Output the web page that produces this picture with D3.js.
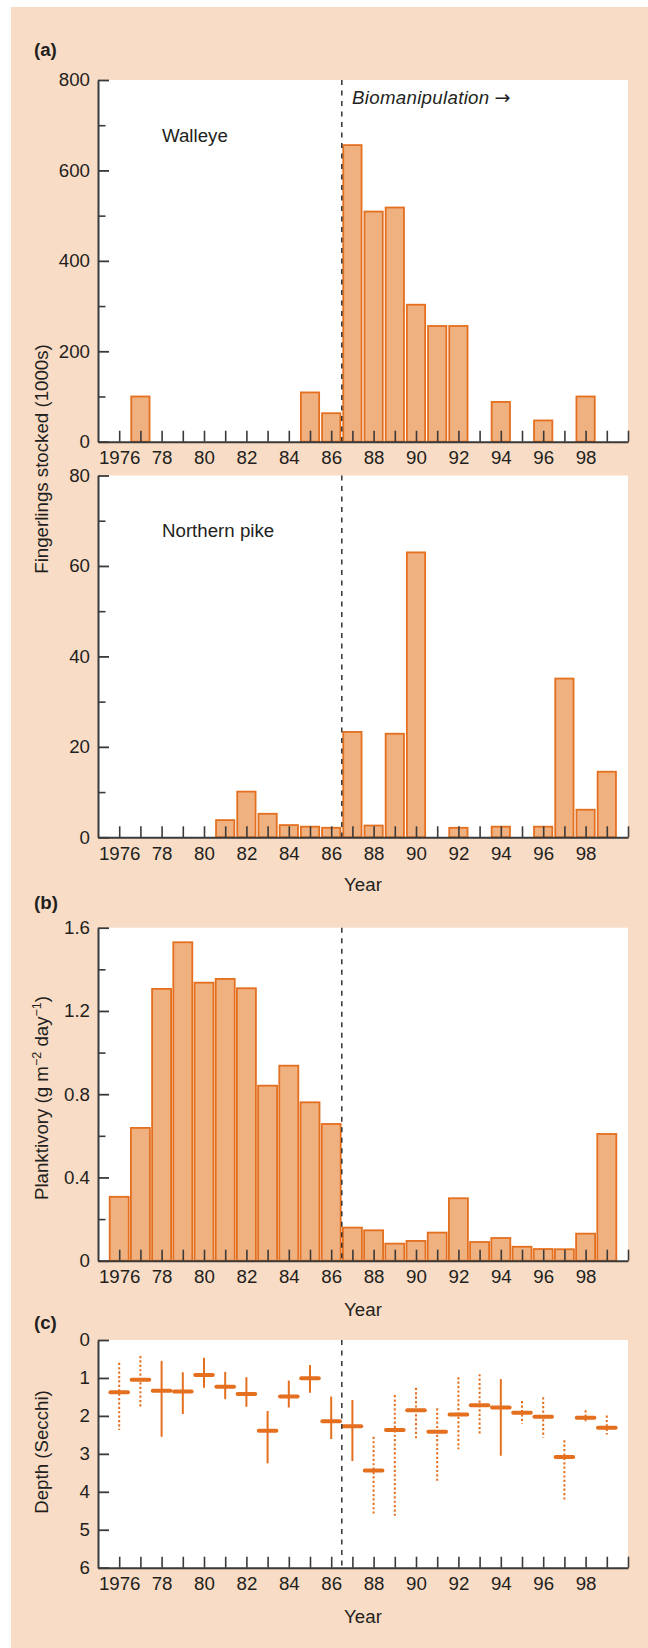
<!DOCTYPE html>
<html>
<head>
<meta charset="utf-8">
<script src="https://cdn.jsdelivr.net/npm/d3@7"></script>
<style>
  html, body { margin: 0; padding: 0; background: #ffffff; }
  svg { display: block; }
  text { font-family: "Liberation Sans", Arial, Helvetica, sans-serif; fill: #231f20; }
</style>
</head>
<body>
<svg id="chart" width="648" height="1648"></svg>
<script>
// ---------------- DATA ----------------
const years = [1976,1977,1978,1979,1980,1981,1982,1983,1984,1985,1986,1987,
               1988,1989,1990,1991,1992,1993,1994,1995,1996,1997,1998,1999];
const yearTickLabels = ["1976","78","80","82","84","86","88","90","92","94","96","98"];

// Panel (a): fingerlings stocked (1000s)
const walleye = [0,100,0,0,0,0,0,0,0,109,63,656,509,518,303,256,256,0,88,0,47,0,100,0];
const northernPike = [0,0,0,0,0,3.8,10.1,5.2,2.7,2.35,2.1,23.3,2.6,22.9,63.0,0,2.1,0,2.35,0,2.35,35.1,6.1,14.5];
const walleyeTicks = [0,200,400,600,800];
const pikeTicks = [0,20,40,60,80];

// Panel (b): planktivory (g m-2 day-1)
const planktivory = [0.307,0.638,1.306,1.530,1.336,1.354,1.309,0.841,0.937,0.761,0.657,0.159,
                     0.146,0.082,0.095,0.135,0.300,0.090,0.109,0.067,0.056,0.055,0.130,0.609];
const planktivoryTicks = [0,0.4,0.8,1.2,1.6];

// Panel (c): Secchi depth
const secchiMean = [1.38,1.05,1.34,1.36,0.92,1.23,1.42,2.39,1.49,1.01,2.14,2.27,
                    3.44,2.37,1.85,2.42,1.96,1.72,1.78,1.92,2.02,3.08,2.05,2.31];
const secchiLow  = [0.60,0.42,0.55,0.85,0.47,0.84,0.98,1.87,1.07,0.66,1.49,1.58,
                    2.55,1.45,1.26,1.80,0.98,0.90,1.03,1.61,1.51,2.64,1.85,1.99];
const secchiHigh = [2.37,1.76,2.55,1.95,1.26,1.56,1.76,3.25,1.78,1.39,2.61,3.19,
                    4.57,4.63,2.59,3.71,2.88,2.52,3.05,2.20,2.57,4.26,2.20,2.49];
const secchiDotted = [true,true,false,false,false,false,false,false,false,false,false,false,
                      true,true,true,true,true,true,false,true,true,true,true,true];
const secchiTicks = [0,1,2,3,4,5,6];

const biomanipulationYear = 1986.5;

// ---------------- STYLE ----------------
const PEACH = "#f9dcc5";
const BAR_FILL = "#f0b180";
const BAR_STROKE = "#e46f1f";
const INK = "#231f20";
const AXIS = "#3a3a3a";
const FS = 18.7;

const svg = d3.select("#chart");
svg.append("rect").attr("x", 11).attr("y", 7).attr("width", 637).attr("height", 1641).attr("fill", PEACH);

const x = d3.scaleLinear().domain([1975, 2000]).range([98, 628]);
const xTickVals = d3.range(1976, 2001);
const xFmt = d => {
  if (d >= 1976 && d <= 1998 && (d - 1976) % 2 === 0) return yearTickLabels[(d - 1976) / 2];
  return "";
};

function midTicks(ticks) {
  const out = [];
  for (let i = 0; i < ticks.length - 1; i++) out.push((ticks[i] + ticks[i+1]) / 2);
  return out;
}

function panel(opts) {
  const { top, bottom, domain, ticks, inverted } = opts;
  const y = d3.scaleLinear().domain(domain).range(inverted ? [top, bottom] : [bottom, top]);
  const g = svg.append("g");
  g.append("rect").attr("x", x.range()[0]).attr("y", top)
    .attr("width", x.range()[1] - x.range()[0]).attr("height", bottom - top).attr("fill", "#ffffff");
  const marks = g.append("g");
  g.append("line").attr("x1", x(biomanipulationYear)).attr("x2", x(biomanipulationYear))
    .attr("y1", top).attr("y2", bottom)
    .attr("stroke", "#333").attr("stroke-width", 1.5).attr("stroke-dasharray", "5,5.5");
  if (opts.minor) {
    g.append("g").attr("transform", `translate(${x.range()[0]},0)`)
      .call(d3.axisLeft(y).tickValues(midTicks(ticks)).tickSize(-7.5).tickFormat(""))
      .call(a => { a.select(".domain").remove(); a.selectAll("line").attr("stroke", AXIS).attr("stroke-width", 1.6); });
  }
  g.append("g").attr("transform", `translate(${x.range()[0]},0)`)
    .call(d3.axisLeft(y).tickValues(ticks).tickSizeInner(-11).tickSizeOuter(0).tickPadding(8)
      .tickFormat(d => String(d)))
    .call(a => {
      a.select(".domain").attr("stroke", AXIS).attr("stroke-width", 2);
      a.selectAll("line").attr("stroke", AXIS).attr("stroke-width", 1.8);
      a.selectAll("text").attr("font-size", FS).attr("fill", INK)
        .style("font-family", '"Liberation Sans", Arial, sans-serif');
    });
  g.append("g").attr("class", "xaxis").attr("transform", `translate(0,${bottom})`)
    .call(d3.axisBottom(x).tickValues(xTickVals).tickSizeInner(-11).tickSizeOuter(0).tickPadding(9.3)
      .tickFormat(xFmt))
    .call(a => {
      a.select(".domain").attr("stroke", AXIS).attr("stroke-width", 2);
      a.selectAll("line").attr("stroke", AXIS).attr("stroke-width", 1.6);
      a.selectAll("text").attr("font-size", FS).attr("fill", INK)
        .style("font-family", '"Liberation Sans", Arial, sans-serif');
    });
  return { y, marks, g };
}

function drawBars(p, values, w) {
  const data = years.map((yr, i) => ({ yr, v: values[i] })).filter(d => d.v > 0);
  p.marks.selectAll("rect.bar").data(data).enter().append("rect").attr("class", "bar")
    .attr("x", d => x(d.yr) - w / 2)
    .attr("y", d => p.y(d.v))
    .attr("width", w)
    .attr("height", d => p.y(0) - p.y(d.v))
    .attr("fill", BAR_FILL).attr("stroke", BAR_STROKE).attr("stroke-width", 1.8);
}

const pA = panel({ top: 80, bottom: 441.7, domain: [0, 800], ticks: walleyeTicks, minor: true });
drawBars(pA, walleye, 18.3);
const pP = panel({ top: 475.5, bottom: 837.3, domain: [0, 80], ticks: pikeTicks, minor: true });
drawBars(pP, northernPike, 18.3);
const pB = panel({ top: 927.7, bottom: 1260.7, domain: [0, 1.6], ticks: planktivoryTicks, minor: true });
drawBars(pB, planktivory, 19);
const pC = panel({ top: 1340, bottom: 1567.7, domain: [0, 6], ticks: secchiTicks, minor: false, inverted: true });
const cData = years.map((yr, i) => ({ yr, m: secchiMean[i], lo: secchiLow[i], hi: secchiHigh[i], dot: secchiDotted[i] }));
pC.marks.selectAll("line.whisk").data(cData).enter().append("line").attr("class", "whisk")
  .attr("x1", d => x(d.yr)).attr("x2", d => x(d.yr))
  .attr("y1", d => pC.y(d.lo)).attr("y2", d => pC.y(d.hi))
  .attr("stroke", BAR_STROKE).attr("stroke-width", 2)
  .attr("stroke-dasharray", d => d.dot ? "2.2,2.2" : null);
pC.marks.selectAll("line.mean").data(cData).enter().append("line").attr("class", "mean")
  .attr("x1", d => x(d.yr) - 8.8).attr("x2", d => x(d.yr) + 8.8)
  .attr("y1", d => pC.y(d.m)).attr("y2", d => pC.y(d.m))
  .attr("stroke", BAR_STROKE).attr("stroke-width", 4).attr("stroke-linecap", "round");

// ---------------- TEXT ----------------
function txt(xp, yp, s, extra) {
  const t = svg.append("text").attr("x", xp).attr("y", yp).attr("font-size", FS).text(s);
  if (extra) extra(t);
  return t;
}
txt(34, 56, "(a)", t => t.attr("font-weight", "bold"));
txt(34, 909, "(b)", t => t.attr("font-weight", "bold"));
txt(34, 1329, "(c)", t => t.attr("font-weight", "bold"));
const bio = svg.append("text").attr("x", 352).attr("y", 104).attr("font-size", FS).attr("font-style", "italic");
bio.append("tspan").attr("letter-spacing", 0.3).text("Biomanipulation");
bio.append("tspan").attr("dx", 5).style("font-family", '"DejaVu Sans", sans-serif')
  .attr("font-style", "normal").attr("font-size", 19).text("\u2192");
txt(162, 141.7, "Walleye");
txt(162, 537.3, "Northern pike");
const xMid = (x.range()[0] + x.range()[1]) / 2;
txt(xMid, 891, "Year", t => t.attr("text-anchor", "middle"));
txt(xMid, 1316, "Year", t => t.attr("text-anchor", "middle"));
txt(xMid, 1622.6, "Year", t => t.attr("text-anchor", "middle"));

function vtxt(cx, cy, build) {
  const t = svg.append("text").attr("transform", `translate(${cx},${cy}) rotate(-90)`)
    .attr("text-anchor", "middle").attr("font-size", FS);
  build(t);
  return t;
}
vtxt(47.5, 459, t => t.text("Fingerlings stocked (1000s)"));
vtxt(47.5, 1098, t => {
  t.append("tspan").text("Planktivory (g m");
  t.append("tspan").attr("font-size", 12.5).attr("dy", -7).text("\u22122");
  t.append("tspan").attr("dy", 7).text(" day");
  t.append("tspan").attr("font-size", 12.5).attr("dy", -7).text("\u22121");
  t.append("tspan").attr("dy", 7).text(")");
});
vtxt(47.5, 1452, t => t.text("Depth (Secchi)"));
</script>
</body>
</html>
